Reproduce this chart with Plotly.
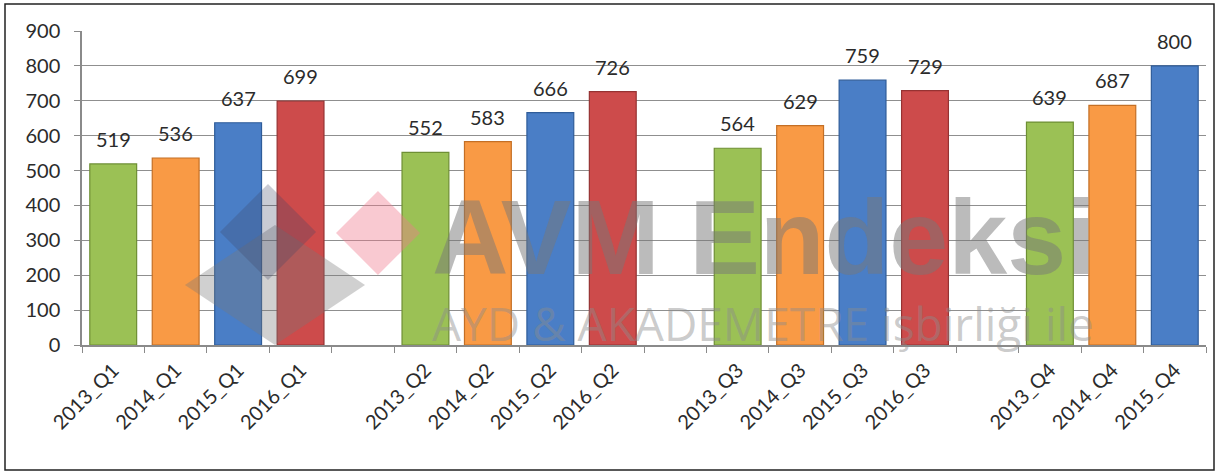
import plotly.graph_objects as go

# ---- data ----
quarters = ["Q1", "Q2", "Q3", "Q4"]
years = ["2013", "2014", "2015", "2016"]
q1_values = [519, 536, 637, 699]
q2_values = [552, 583, 666, 726]
q3_values = [564, 629, 759, 729]
q4_values = [639, 687, 800]
y_ticks = [0, 100, 200, 300, 400, 500, 600, 700, 800, 900]

year_colors = {"2013": "#9BC155", "2014": "#F99A45", "2015": "#4A7EC6", "2016": "#CD4B4B"}
year_lines = {"2013": "#6E8F34", "2014": "#C46F25", "2015": "#2F5C99", "2016": "#963232"}

groups = [q1_values, q2_values, q3_values, q4_values]
categories, values, colors, lines = [], [], [], []
for gi, (q, vals) in enumerate(zip(quarters, groups)):
    for y, v in zip(years, vals):
        categories.append(f"{y}_{q}")
        values.append(v)
        colors.append(year_colors[y])
        lines.append(year_lines[y])
    if gi < len(groups) - 1:
        categories.append(" " * (gi + 1))  # empty slot between quarters
        values.append(None)
        colors.append("white")
        lines.append("white")

font_family = "Lato, 'Open Sans', sans-serif"

fig = go.Figure()
fig.add_trace(go.Bar(
    x=categories, y=values,
    marker=dict(color=colors, line=dict(color=lines, width=1.2)),
    hoverinfo="x+y", showlegend=False,
))

annotations = []
for c, v in zip(categories, values):
    if v is None:
        continue
    annotations.append(dict(x=c, y=v, text=str(v), showarrow=False, xref="x", yref="y",
                            yanchor="bottom", yshift=11,
                            font=dict(family=font_family, size=20, color="#2b2b2b")))

def px_x(x):
    return (x - 82) / 1124

def px_y(y):
    return (345 - y) / 314

# watermark texts
annotations.append(dict(x=px_x(430), y=px_y(298), xref="paper", yref="paper",
                        xanchor="left", yanchor="bottom", showarrow=False,
                        text="<b>AVM Endeksi</b>",
                        font=dict(family="'Liberation Sans Narrow', 'Liberation Sans', sans-serif",
                                  size=106, color="rgba(120,120,120,0.5)")))
annotations.append(dict(x=px_x(430), y=px_y(356), xref="paper", yref="paper",
                        xanchor="left", yanchor="bottom", showarrow=False,
                        text="AYD & AKADEMETRE işbirliği ile",
                        font=dict(family="'Open Sans', sans-serif",
                                  size=46, color="rgba(140,140,140,0.45)")))

def diamond(cx, cy, hw, hh):
    pts = [(cx, cy - hh), (cx + hw, cy), (cx, cy + hh), (cx - hw, cy)]
    return "M " + " L ".join(f"{px_x(a):.4f},{px_y(b):.4f}" for a, b in pts) + " Z"

shapes = [
    dict(type="path", xref="paper", yref="paper", path=diamond(275, 285, 90, 60),
         fillcolor="rgba(120,120,120,0.35)", line=dict(width=0), layer="above"),
    dict(type="path", xref="paper", yref="paper", path=diamond(268, 232, 48, 48),
         fillcolor="rgba(60,70,100,0.28)", line=dict(width=0), layer="above"),
    dict(type="path", xref="paper", yref="paper", path=diamond(378, 233, 42, 42),
         fillcolor="rgba(240,120,140,0.4)", line=dict(width=0), layer="above"),
    # outer frame
    dict(type="rect", xref="paper", yref="paper",
         x0=px_x(5), x1=px_x(1214), y0=px_y(470), y1=px_y(4),
         line=dict(color="#222222", width=1.5), fillcolor="rgba(0,0,0,0)", layer="below"),
]

fig.update_layout(
    width=1217, height=472,
    margin=dict(l=82, r=11, t=31, b=127),
    paper_bgcolor="white", plot_bgcolor="white",
    bargap=0.25,
    font=dict(family=font_family, size=20, color="#2b2b2b"),
    annotations=annotations,
    shapes=shapes,
)
fig.update_xaxes(
    type="category", categoryorder="array", categoryarray=categories,
    tickangle=-45, tickson="boundaries", ticks="outside", ticklen=6,
    tickcolor="#8a8a8a", showline=True, linecolor="#8a8a8a", linewidth=1.5,
    showgrid=False, tickfont=dict(family=font_family, size=20, color="#2b2b2b"),
    ticklabelstandoff=4,
)
fig.update_yaxes(
    range=[0, 900], tickvals=y_ticks, ticks="outside", ticklen=6,
    tickcolor="#8a8a8a", showline=True, linecolor="#8a8a8a", linewidth=1.5,
    showgrid=True, gridcolor="#8f8f8f", gridwidth=1.3, zeroline=False,
    tickfont=dict(family=font_family, size=20, color="#2b2b2b"),
    ticklabelstandoff=10,
)

fig.write_html("out.html", config={"displayModeBar": False},
               post_script="document.body.style.margin='0';document.body.style.padding='0';")
